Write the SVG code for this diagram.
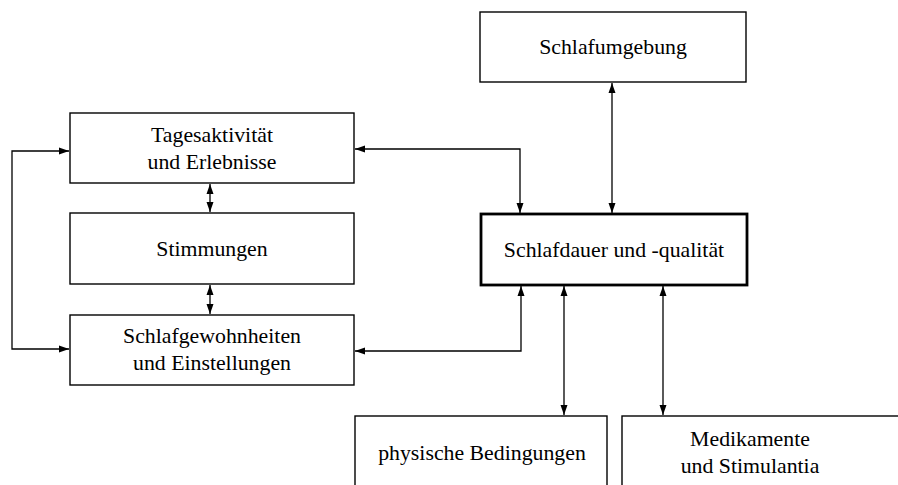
<svg xmlns="http://www.w3.org/2000/svg" width="898" height="485" viewBox="0 0 898 485">
<style>
.box{fill:#fff;stroke:#000;stroke-width:1.4}
.main{fill:#fff;stroke:#000;stroke-width:2.8}
.t{font-family:"Liberation Serif","Times New Roman",serif;font-size:21.8px;fill:#000;text-anchor:middle}
.c{fill:none;stroke:#000;stroke-width:1.3}
</style>
<defs>
<marker id="ah" markerUnits="userSpaceOnUse" markerWidth="10" markerHeight="8" refX="10" refY="4" orient="auto-start-reverse">
<path d="M0,0.5 L10,4 L0,7.5 z" fill="#000"/>
</marker>
</defs>
<rect width="898" height="485" fill="#fff"/>
<g id="connectors">
<path class="c" d="M69,151 H12 V349 H69" marker-start="url(#ah)" marker-end="url(#ah)"/>
<path class="c" d="M210,184 V212" marker-start="url(#ah)" marker-end="url(#ah)"/>
<path class="c" d="M210,285 V314" marker-start="url(#ah)" marker-end="url(#ah)"/>
<path class="c" d="M355,149 H520 V213" marker-start="url(#ah)" marker-end="url(#ah)"/>
<path class="c" d="M355,351 H521 V286" marker-start="url(#ah)" marker-end="url(#ah)"/>
<path class="c" d="M612,83 V213" marker-start="url(#ah)" marker-end="url(#ah)"/>
<path class="c" d="M564,286 V415" marker-start="url(#ah)" marker-end="url(#ah)"/>
<path class="c" d="M663,286 V415" marker-start="url(#ah)" marker-end="url(#ah)"/>
</g>
<g id="schlafumgebung">
<rect class="box" x="480" y="12" width="266" height="70"/>
<text class="t" x="613" y="54">Schlafumgebung</text>
</g>
<g id="tagesaktivitaet">
<rect class="box" x="70" y="113" width="284" height="70"/>
<text class="t" x="212" y="142">Tagesaktivität</text>
<text class="t" x="212" y="169">und Erlebnisse</text>
</g>
<g id="stimmungen">
<rect class="box" x="70" y="213" width="284" height="71"/>
<text class="t" x="212" y="256">Stimmungen</text>
</g>
<g id="schlafgewohnheiten">
<rect class="box" x="70" y="315" width="284" height="70"/>
<text class="t" x="212" y="343">Schlafgewohnheiten</text>
<text class="t" x="212" y="370">und Einstellungen</text>
</g>
<g id="schlafdauer">
<rect class="main" x="481" y="214" width="266" height="71"/>
<text class="t" x="614" y="257">Schlafdauer und -qualität</text>
</g>
<g id="physische">
<rect class="box" x="355" y="416" width="252" height="90"/>
<text class="t" x="482" y="460">physische Bedingungen</text>
</g>
<g id="medikamente">
<rect class="box" x="622" y="416" width="300" height="90"/>
<text class="t" x="750" y="446">Medikamente</text>
<text class="t" x="750" y="473">und Stimulantia</text>
</g>
</svg>
